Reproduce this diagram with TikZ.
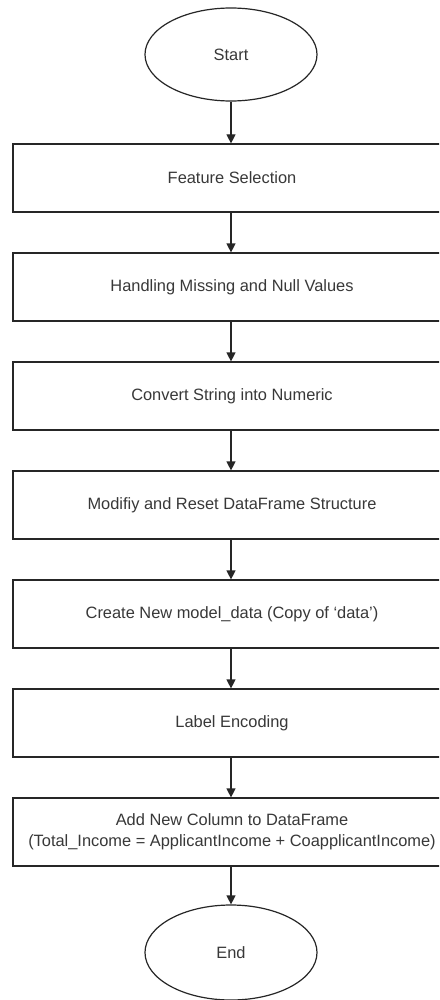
\documentclass[tikz,border=0pt]{standalone}
\usepackage{fontspec}
\setmainfont{Liberation Sans}
\usetikzlibrary{arrows.meta,shapes.geometric}
\begin{document}
\begin{tikzpicture}[x=1pt,y=-1pt,
  every node/.style={font=\fontsize{16.4}{21}\selectfont, text=black!78},
  stepbox/.style={draw=black!85, line width=1.2pt, minimum width=438pt,
    minimum height=68pt, inner sep=0pt, align=center},
  terminal/.style={draw=black!85, line width=1.2pt, ellipse,
    minimum width=172pt, minimum height=93pt, inner sep=0pt},
  flow/.style={draw=black!85, line width=1.2pt,
    -{Triangle[length=9pt,width=9pt]}}]
\useasboundingbox (0,0) rectangle (439,1000);
\fill[white] (0,0) rectangle (439,1000);
\clip (0,0) rectangle (439,1000);

% terminals and processing steps
\node[terminal] (start) at (231,54.5) {Start};
\node[stepbox] (s1) at (232,178) {Feature Selection};
\node[stepbox] (s2) at (232,287) {Handling Missing and Null Values};
\node[stepbox] (s3) at (232,396) {Convert String into Numeric};
\node[stepbox] (s4) at (232,505) {Modifiy and Reset DataFrame Structure};
\node[stepbox] (s5) at (232,614) {Create New model\_data (Copy of `data')};
\node[stepbox] (s6) at (232,723) {Label Encoding};
\node[stepbox] (s7) at (232,832) {Add New Column to DataFrame\\(Total\_Income = ApplicantIncome + CoapplicantIncome)};
\node[terminal, minimum height=95pt] (end) at (231,952.5) {End};

% connectors
\draw[flow] (start.south) -- (s1.north -| start.south);
\draw[flow] (s1.south -| start.south) -- (s2.north -| start.south);
\draw[flow] (s2.south -| start.south) -- (s3.north -| start.south);
\draw[flow] (s3.south -| start.south) -- (s4.north -| start.south);
\draw[flow] (s4.south -| start.south) -- (s5.north -| start.south);
\draw[flow] (s5.south -| start.south) -- (s6.north -| start.south);
\draw[flow] (s6.south -| start.south) -- (s7.north -| start.south);
\draw[flow] (s7.south -| start.south) -- (end.north);
\end{tikzpicture}
\end{document}
